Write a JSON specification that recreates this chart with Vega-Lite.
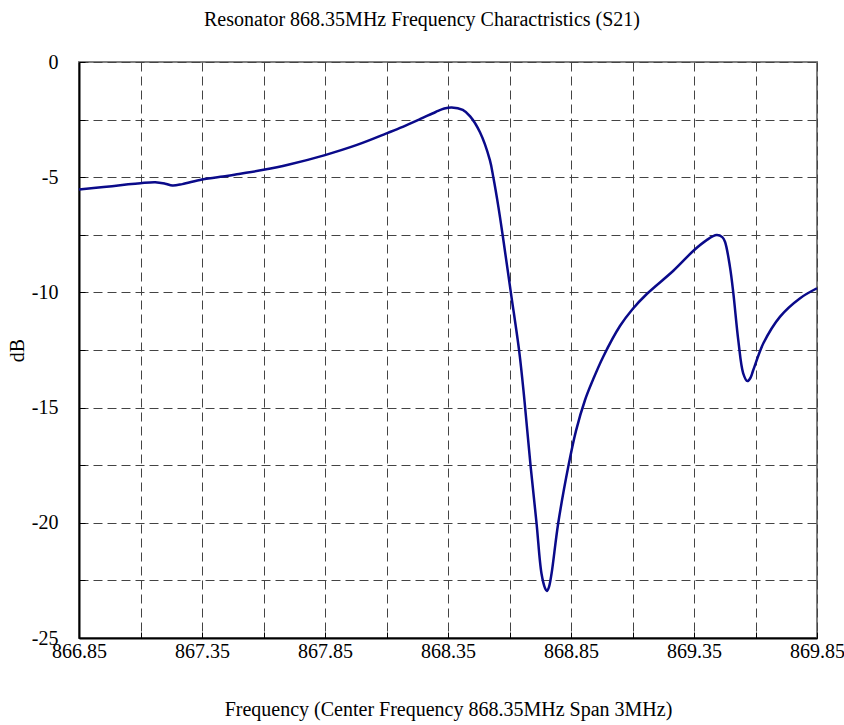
{
  "$schema": "https://vega.github.io/schema/vega-lite/v6.json",
  "width": 738,
  "height": 576,
  "autosize": {"type": "none"},
  "padding": {"left": 79, "top": 62, "right": 27, "bottom": 87},
  "background": "white",
  "title": {
    "text": "Resonator 868.35MHz Frequency Charactristics (S21)",
    "font": "Liberation Serif",
    "fontSize": 20,
    "fontWeight": "normal",
    "color": "#000000",
    "anchor": "middle",
    "frame": "group",
    "dx": -26,
    "offset": 22
  },
  "config": {
    "view": {"stroke": "#808080", "strokeWidth": 2},
    "axis": {
      "labelFont": "Liberation Serif",
      "labelFontSize": 20,
      "labelColor": "#000000",
      "titleFont": "Liberation Serif",
      "titleFontSize": 20,
      "titleFontWeight": "normal",
      "titleColor": "#000000",
      "domainColor": "#000000",
      "domainWidth": 2,
      "tickColor": "#000000",
      "tickWidth": 1,
      "tickSize": -6,
      "grid": true,
      "gridColor": "#444444",
      "gridDash": [9, 5],
      "gridWidth": 1,
      "gridOpacity": 1
    }
  },
  "data": {
    "values": [
      {"f": 866.85, "db": -5.53},
      {"f": 866.95, "db": -5.43},
      {"f": 867.05, "db": -5.31},
      {"f": 867.1, "db": -5.26},
      {"f": 867.16, "db": -5.22},
      {"f": 867.2, "db": -5.28},
      {"f": 867.23, "db": -5.36},
      {"f": 867.27, "db": -5.3},
      {"f": 867.35, "db": -5.1},
      {"f": 867.45, "db": -4.95},
      {"f": 867.5, "db": -4.86},
      {"f": 867.6, "db": -4.68},
      {"f": 867.7, "db": -4.46},
      {"f": 867.85, "db": -4.04},
      {"f": 867.98, "db": -3.6},
      {"f": 868.1, "db": -3.1},
      {"f": 868.155, "db": -2.86},
      {"f": 868.24, "db": -2.46},
      {"f": 868.3, "db": -2.17},
      {"f": 868.335, "db": -2.02},
      {"f": 868.365, "db": -1.97},
      {"f": 868.41, "db": -2.08},
      {"f": 868.44, "db": -2.36},
      {"f": 868.48, "db": -3.05},
      {"f": 868.52, "db": -4.25},
      {"f": 868.535, "db": -5.05},
      {"f": 868.555, "db": -6.3},
      {"f": 868.572, "db": -7.5},
      {"f": 868.606, "db": -10.04},
      {"f": 868.64, "db": -12.6},
      {"f": 868.66, "db": -14.6},
      {"f": 868.686, "db": -17.56},
      {"f": 868.71, "db": -20.02},
      {"f": 868.73, "db": -22.2},
      {"f": 868.745, "db": -22.85},
      {"f": 868.752, "db": -22.96},
      {"f": 868.76, "db": -22.8},
      {"f": 868.771, "db": -22.2},
      {"f": 868.798, "db": -20.02},
      {"f": 868.839, "db": -17.56},
      {"f": 868.87, "db": -16.02},
      {"f": 868.907, "db": -14.67},
      {"f": 868.939, "db": -13.8},
      {"f": 868.981, "db": -12.79},
      {"f": 869.049, "db": -11.46},
      {"f": 869.099, "db": -10.74},
      {"f": 869.158, "db": -10.07},
      {"f": 869.266, "db": -9.06},
      {"f": 869.351, "db": -8.16},
      {"f": 869.4, "db": -7.74},
      {"f": 869.442, "db": -7.51},
      {"f": 869.465, "db": -7.6},
      {"f": 869.476, "db": -7.8},
      {"f": 869.496, "db": -8.88},
      {"f": 869.51, "db": -10.04},
      {"f": 869.53, "db": -12.07},
      {"f": 869.55, "db": -13.51},
      {"f": 869.567, "db": -13.85},
      {"f": 869.58, "db": -13.7},
      {"f": 869.591, "db": -13.37},
      {"f": 869.632, "db": -12.21},
      {"f": 869.7, "db": -11.05},
      {"f": 869.78, "db": -10.26},
      {"f": 869.85, "db": -9.82}
    ]
  },
  "mark": {"type": "line", "color": "#0a0a8a", "strokeWidth": 2.5, "interpolate": "catmull-rom"},
  "encoding": {
    "x": {
      "field": "f",
      "type": "quantitative",
      "scale": {"domain": [866.85, 869.85], "nice": false, "zero": false},
      "axis": {
        "title": "Frequency (Center Frequency 868.35MHz Span 3MHz)",
        "values": [866.85, 867.1, 867.35, 867.6, 867.85, 868.1, 868.35, 868.6, 868.85, 869.1, 869.35, 869.6, 869.85],
        "labelExpr": "abs(round((datum.value - 866.85) * 4)) % 2 == 0 ? format(datum.value, '.2f') : ''",
        "labelPadding": 9,
        "titlePadding": 38,
        "labelFlush": false,
        "labelOverlap": false
      }
    },
    "y": {
      "field": "db",
      "type": "quantitative",
      "scale": {"domain": [-25, 0], "nice": false, "zero": false},
      "axis": {
        "title": "dB",
        "values": [-25, -22.5, -20, -17.5, -15, -12.5, -10, -7.5, -5, -2.5, 0],
        "labelExpr": "datum.value % 5 == 0 ? toString(datum.value) : ''",
        "labelPadding": 27,
        "titlePadding": 4,
        "labelOverlap": false,
        "labelFlush": false
      }
    }
  }
}
